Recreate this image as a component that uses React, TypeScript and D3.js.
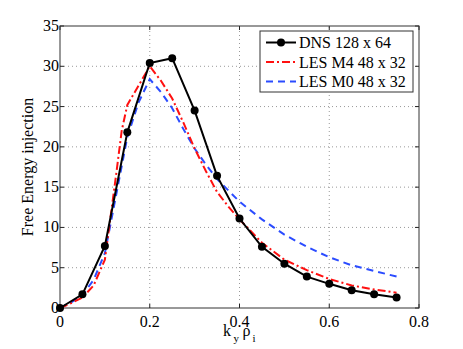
import React, { useEffect, useRef } from "react"
import * as d3 from "d3"

// DNS 128 x 64 (markers)
const dnsK = [0, 0.05, 0.1, 0.15, 0.2, 0.25, 0.3, 0.35, 0.4, 0.45, 0.5, 0.55, 0.6, 0.65, 0.7, 0.75]
const dnsVal = [0, 1.7, 7.7, 21.8, 30.4, 31.0, 24.5, 16.4, 11.1, 7.6, 5.5, 3.9, 3.0, 2.2, 1.7, 1.3]

// LES M4 48 x 32
const m4K = [0, 0.025, 0.05, 0.075, 0.1, 0.125, 0.1375, 0.15, 0.175, 0.2, 0.225, 0.25, 0.275, 0.3, 0.325, 0.35, 0.375, 0.4, 0.45, 0.5, 0.55, 0.6, 0.65, 0.7, 0.75]
const m4Val = [0, 0.6, 1.3, 2.8, 6.0, 16.5, 22.0, 25.2, 27.6, 30.0, 28.2, 26.0, 23.0, 19.8, 17.0, 14.4, 12.6, 11.0, 8.1, 6.0, 4.7, 3.6, 2.8, 2.3, 1.9]

// LES M0 48 x 32
const m0K = [0, 0.025, 0.05, 0.075, 0.1, 0.125, 0.15, 0.175, 0.2, 0.225, 0.25, 0.275, 0.3, 0.325, 0.35, 0.375, 0.4, 0.45, 0.5, 0.55, 0.6, 0.65, 0.7, 0.75]
const m0Val = [0, 0.7, 1.6, 3.5, 6.8, 14.0, 21.2, 25.5, 28.4, 26.8, 24.8, 22.2, 19.8, 17.8, 16.0, 14.6, 13.2, 11.0, 9.1, 7.6, 6.3, 5.3, 4.6, 3.9]

const xTicks = [0, 0.2, 0.4, 0.6, 0.8]
const yTicks = [0, 5, 10, 15, 20, 25, 30, 35]
const legendLabels = ["DNS 128 x 64", "LES M4 48 x 32", "LES M0 48 x 32"]

const W = 463
const H = 349
const FONT = "Liberation Serif, DejaVu Serif, serif"
const FS = 16

const App = () => {
    const ref = useRef<SVGSVGElement | null>(null)

    useEffect(() => {
        if (!ref.current) return
        const svg = d3.select(ref.current)
        svg.selectAll("*").remove()

        const margin = { top: 26, right: 44, bottom: 41, left: 60 }
        const x = d3.scaleLinear().domain([0, 0.8]).range([margin.left, W - margin.right])
        const y = d3.scaleLinear().domain([0, 35]).range([H - margin.bottom, margin.top])
        const [x0, x1] = x.range()
        const [y0, y1] = y.range()

        svg.append("rect").attr("width", W).attr("height", H).attr("fill", "#fff")

        // dotted grid
        const grid = svg.append("g").attr("stroke", "#999").attr("stroke-width", 1).attr("stroke-dasharray", "1,3")
        xTicks.slice(1, -1).forEach((t) => {
            grid.append("line").attr("x1", x(t)).attr("x2", x(t)).attr("y1", y0).attr("y2", y1)
        })
        yTicks.slice(1, -1).forEach((t) => {
            grid.append("line").attr("x1", x0).attr("x2", x1).attr("y1", y(t)).attr("y2", y(t))
        })

        // ticks inside the box
        const ticks = svg.append("g").attr("stroke", "#222").attr("stroke-width", 1)
        xTicks.forEach((t) => {
            ticks.append("line").attr("x1", x(t)).attr("x2", x(t)).attr("y1", y0).attr("y2", y0 - 4)
            ticks.append("line").attr("x1", x(t)).attr("x2", x(t)).attr("y1", y1).attr("y2", y1 + 4)
        })
        yTicks.forEach((t) => {
            ticks.append("line").attr("x1", x0).attr("x2", x0 + 4).attr("y1", y(t)).attr("y2", y(t))
            ticks.append("line").attr("x1", x1).attr("x2", x1 - 4).attr("y1", y(t)).attr("y2", y(t))
        })

        // box
        svg.append("rect")
            .attr("x", x0).attr("y", y1)
            .attr("width", x1 - x0).attr("height", y0 - y1)
            .attr("fill", "none").attr("stroke", "#333").attr("stroke-width", 1)

        // tick labels
        svg.append("g").selectAll("text").data(xTicks).enter().append("text")
            .attr("x", (d) => x(d)).attr("y", y0 + 19)
            .attr("text-anchor", "middle").style("font-family", FONT).style("font-size", FS + "px")
            .text((d) => (d === 0 ? "0" : d3.format(".1f")(d)))
        svg.append("g").selectAll("text").data(yTicks).enter().append("text")
            .attr("x", x0 - 1).attr("y", (d) => y(d) + 5)
            .attr("text-anchor", "end").style("font-family", FONT).style("font-size", FS + "px")
            .text((d) => d)

        // axis labels
        svg.append("text")
            .attr("transform", `translate(33,${(y0 + y1) / 2}) rotate(-90)`)
            .attr("text-anchor", "middle").style("font-family", FONT).style("font-size", FS + "px")
            .text("Free Energy injection")
        const lbl = (tx: number, ty: number, s: string, size: number) =>
            svg.append("text").attr("x", tx).attr("y", ty)
                .style("font-family", FONT).style("font-size", size + "px").text(s)
        lbl(223, 336, "k", FS)
        lbl(233.5, 342, "y", 11)
        lbl(242.5, 336, "ρ", FS)
        lbl(252.5, 342, "i", 11)

        const line = d3.line<[number, number]>().x((d) => x(d[0])).y((d) => y(d[1]))
        const plot = svg.append("g")

        plot.append("path")
            .attr("d", line(m0K.map((k, i) => [k, m0Val[i]] as [number, number])))
            .attr("fill", "none").attr("stroke", "#2b4cff").attr("stroke-width", 2)
            .attr("stroke-dasharray", "7,5")
        plot.append("path")
            .attr("d", line(m4K.map((k, i) => [k, m4Val[i]] as [number, number])))
            .attr("fill", "none").attr("stroke", "#ff1010").attr("stroke-width", 2)
            .attr("stroke-dasharray", "8,3,2,3")
        plot.append("path")
            .attr("d", line(dnsK.map((k, i) => [k, dnsVal[i]] as [number, number])))
            .attr("fill", "none").attr("stroke", "#000").attr("stroke-width", 2)
        plot.append("g").selectAll("circle").data(dnsK).enter().append("circle")
            .attr("cx", (d) => x(d)).attr("cy", (d, i) => y(dnsVal[i]))
            .attr("r", 4).attr("fill", "#000")

        // legend
        const lg = svg.append("g")
        lg.append("rect").attr("x", 260).attr("y", 31).attr("width", 153).attr("height", 61)
            .attr("fill", "#fff").attr("stroke", "#333").attr("stroke-width", 1)
        const styles = [
            { stroke: "#000", dash: null },
            { stroke: "#ff1010", dash: "8,3,2,3" },
            { stroke: "#2b4cff", dash: "7,5" },
        ]
        legendLabels.forEach((label, i) => {
            const cy = 42.5 + i * 19.5
            lg.append("line").attr("x1", 266).attr("x2", 296).attr("y1", cy).attr("y2", cy)
                .attr("stroke", styles[i].stroke).attr("stroke-width", 2)
                .attr("stroke-dasharray", styles[i].dash)
            if (i === 0) lg.append("circle").attr("cx", 281).attr("cy", cy).attr("r", 4).attr("fill", "#000")
            lg.append("text").attr("x", 299).attr("y", cy + 5.5)
                .style("font-family", FONT).style("font-size", FS + "px").text(label)
        })
    }, [])

    return <svg ref={ref} width={W} height={H} style={{ display: "block", position: "absolute", left: 0, top: 0 }} />
}

export default App
